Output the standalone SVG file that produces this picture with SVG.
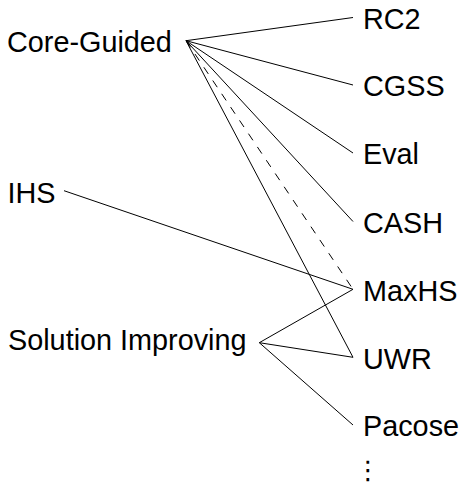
<svg xmlns="http://www.w3.org/2000/svg" width="460" height="483" viewBox="0 0 460 483">
<style>
text{font-family:"Liberation Sans",Arial,sans-serif;font-size:28.8px;fill:#000}
.c line{stroke:#000;stroke-width:1;fill:none}
.d{stroke-dasharray:8 8}
.v{font-family:"DejaVu Sans",sans-serif;font-size:26px}
</style>
<rect width="460" height="483" fill="#fff"/>
<g class="c" id="connectors">
<line x1="186" y1="40.7" x2="353" y2="17.5"/>
<line x1="186" y1="40.7" x2="353" y2="85"/>
<line x1="186" y1="40.7" x2="353" y2="153"/>
<line x1="186" y1="40.7" x2="353" y2="221.5"/>
<line class="d" x1="186" y1="40.7" x2="353" y2="289.3"/>
<line x1="186" y1="40.7" x2="353" y2="357.3"/>
<line x1="64" y1="190.7" x2="353" y2="289.3"/>
<line x1="259.3" y1="342.7" x2="353" y2="289.3"/>
<line x1="259.3" y1="342.7" x2="353" y2="357.3"/>
<line x1="259.3" y1="342.7" x2="353" y2="425"/>
</g>
<g id="core-guided"><text x="7" y="52">Core-Guided</text></g>
<g id="ihs"><text x="7.5" y="202.5">IHS</text></g>
<g id="solution-improving"><text x="8" y="349.5">Solution Improving</text></g>
<g id="rc2"><text x="363" y="28.5">RC2</text></g>
<g id="cgss"><text x="363" y="96">CGSS</text></g>
<g id="eval"><text x="363" y="164">Eval</text></g>
<g id="cash"><text x="363" y="232.5">CASH</text></g>
<g id="maxhs"><text x="363" y="300.5">MaxHS</text></g>
<g id="uwr"><text x="363" y="368.5">UWR</text></g>
<g id="pacose"><text x="363" y="436">Pacose</text></g>
<g id="more"><text class="v" x="355" y="478.5">⋮</text></g>
</svg>
